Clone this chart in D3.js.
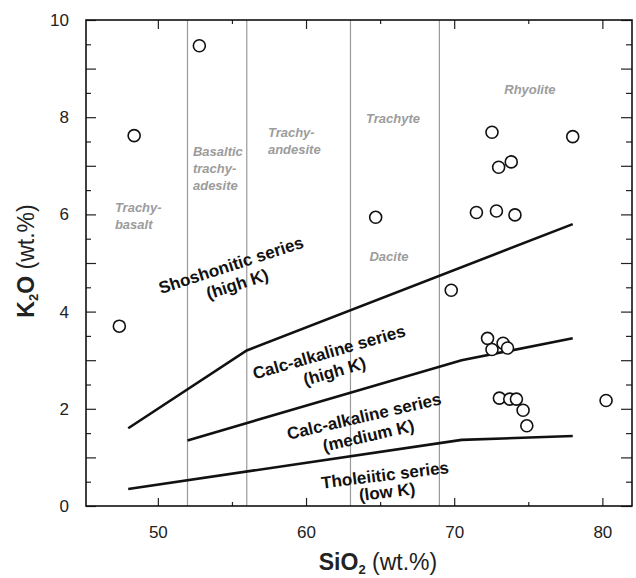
<!DOCTYPE html>
<html>
<head>
<meta charset="utf-8">
<script src="https://cdn.jsdelivr.net/npm/d3@7"></script>
<style>
  body { margin: 0; background: #fff; }
  svg { display: block; font-family: "Liberation Sans", Arial, sans-serif; }
</style>
</head>
<body>
<div id="chart"></div>
<script>
// samples (SiO2, K2O in wt.%)
var sio2 = [48.4, 52.8, 47.4, 64.7, 69.8, 72.55, 78.0, 73.0, 73.85, 71.5, 72.85, 74.1,
            72.25, 72.55, 73.3, 73.6, 73.05, 73.75, 74.2, 74.65, 74.9, 80.25];
var k2o  = [7.62, 9.47, 3.70, 5.94, 4.44, 7.69, 7.60, 6.97, 7.08, 6.04, 6.07, 5.99,
            3.45, 3.22, 3.35, 3.25, 2.22, 2.20, 2.20, 1.97, 1.65, 2.17];

// rock field boundaries (vertical)
var fieldBounds = [52, 56, 63, 69];

// series boundaries (Peccerillo & Taylor style)
var shoshoniticLine = [[48, 1.6], [56, 3.2], [78, 5.8]];
var highKLine       = [[52, 1.35], [70.5, 3.0], [78, 3.45]];
var lowKLine        = [[48, 0.35], [70.5, 1.36], [78, 1.44]];

// field names: [lines, SiO2, K2O, anchor]
var rockNames = [
  [["Trachy-", "basalt"], 47.1, 6.15, "start"],
  [["Basaltic", "trachy-", "adesite"], 52.37, 7.29, "start"],
  [["Trachy-", "andesite"], 57.43, 7.68, "start"],
  [["Trachyte"], 65.87, 7.98, "middle"],
  [["Rhyolite"], 75.11, 8.58, "middle"],
  [["Dacite"], 65.6, 5.13, "middle"]
];

// series names: [lines, SiO2, K2O, angle, line gap]
var seriesNames = [
  [["Shoshonitic series", "(high K)"], 54.94, 4.96, -18, 20],
  [["Calc-alkaline series", "(high K)"], 61.55, 3.17, -16, 20],
  [["Calc-alkaline series", "(medium K)"], 63.91, 1.85, -13, 20],
  [["Tholeiitic series", "(low K)"], 65.33, 0.64, -7, 17]
];

var xMajor = [50, 60, 70, 80], xMinor = [55, 65, 75];
var yMajor = d3.range(0, 11), yMinor = d3.range(0.5, 10, 1);

var width = 636, height = 578;
var plot = {left: 86, right: 632, top: 20, bottom: 506};

var svg = d3.select("#chart")
  .append("svg")
    .attr("width", width)
    .attr("height", height);

var x = d3.scaleLinear().domain([45.15, 82]).range([plot.left, plot.right]);
var y = d3.scaleLinear().domain([0, 10]).range([plot.bottom, plot.top]);

// vertical field lines
svg.append("g")
  .selectAll("line")
  .data(fieldBounds)
  .join("line")
    .attr("x1", d => x(d)).attr("x2", d => x(d))
    .attr("y1", y(0)).attr("y2", y(10))
    .attr("stroke", "#9a9a9a")
    .attr("stroke-width", 1.2);

// axes (ticks pointing in)
function styleAxis(g) {
  g.select(".domain").remove();
  g.selectAll(".tick line").attr("stroke", "#222").attr("stroke-width", 1.2);
  g.selectAll("text").attr("font-size", 17).attr("fill", "#222")
    .attr("font-family", "'Liberation Sans', Arial, sans-serif");
}

svg.append("g").attr("transform", "translate(0," + plot.bottom + ")")
  .call(d3.axisBottom(x).tickValues(xMajor).tickSize(-8).tickPadding(20))
  .call(styleAxis);
svg.append("g").attr("transform", "translate(0," + plot.bottom + ")")
  .call(d3.axisBottom(x).tickValues(xMinor).tickSize(-4).tickFormat(""))
  .call(styleAxis);
svg.append("g").attr("transform", "translate(0," + plot.top + ")")
  .call(d3.axisTop(x).tickValues(xMajor).tickSize(-9).tickFormat(""))
  .call(styleAxis);
svg.append("g").attr("transform", "translate(0," + plot.top + ")")
  .call(d3.axisTop(x).tickValues(xMinor).tickSize(-4).tickFormat(""))
  .call(styleAxis);

svg.append("g").attr("transform", "translate(" + plot.left + ",0)")
  .call(d3.axisLeft(y).tickValues(yMajor).tickSize(-10).tickPadding(17)
    .tickFormat(d => d % 2 === 0 ? d : ""))
  .call(styleAxis);
svg.append("g").attr("transform", "translate(" + plot.left + ",0)")
  .call(d3.axisLeft(y).tickValues(yMinor).tickSize(-5).tickFormat(""))
  .call(styleAxis);
svg.append("g").attr("transform", "translate(" + plot.right + ",0)")
  .call(d3.axisRight(y).tickValues(yMajor).tickSize(-11).tickFormat(""))
  .call(styleAxis);
svg.append("g").attr("transform", "translate(" + plot.right + ",0)")
  .call(d3.axisRight(y).tickValues(yMinor).tickSize(-6).tickFormat(""))
  .call(styleAxis);

// frame
svg.append("rect")
  .attr("x", plot.left).attr("y", plot.top)
  .attr("width", plot.right - plot.left).attr("height", plot.bottom - plot.top)
  .attr("fill", "none")
  .attr("stroke", "#111")
  .attr("stroke-width", 1.6);

// series boundary lines
var line = d3.line().x(d => x(d[0])).y(d => y(d[1]));
svg.append("g")
  .selectAll("path")
  .data([shoshoniticLine, highKLine, lowKLine])
  .join("path")
    .attr("d", line)
    .attr("fill", "none")
    .attr("stroke", "#111")
    .attr("stroke-width", 2.6);

// rock field names
rockNames.forEach(function(r) {
  var t = svg.append("text")
    .attr("x", x(r[1]))
    .attr("y", y(r[2]))
    .attr("text-anchor", r[3])
    .attr("font-size", 13)
    .attr("font-weight", "bold")
    .attr("font-style", "italic")
    .attr("fill", "#9c9c9c");
  r[0].forEach(function(s, i) {
    t.append("tspan")
      .attr("x", x(r[1]))
      .attr("dy", i === 0 ? "0.35em" : 17)
      .text(s);
  });
});

// series names
seriesNames.forEach(function(s) {
  var g = svg.append("g")
    .attr("transform", "translate(" + x(s[1]) + "," + y(s[2]) + ")rotate(" + s[3] + ")");
  s[0].forEach(function(txt, i) {
    g.append("text")
      .attr("x", 0)
      .attr("y", i * s[4])
      .attr("dy", "0.35em")
      .attr("text-anchor", "middle")
      .attr("font-size", 17)
      .attr("font-weight", "bold")
      .attr("fill", "#111")
      .text(txt);
  });
});

// sample points
svg.append("g")
  .selectAll("circle")
  .data(d3.range(sio2.length))
  .join("circle")
    .attr("cx", i => x(sio2[i]))
    .attr("cy", i => y(k2o[i]))
    .attr("r", 6)
    .attr("fill", "#fff")
    .attr("stroke", "#111")
    .attr("stroke-width", 1.6);

// axis titles
var xt = svg.append("text")
  .attr("x", 378).attr("y", 570)
  .attr("text-anchor", "middle")
  .attr("font-size", 23)
  .attr("fill", "#222");
xt.append("tspan").attr("font-weight", "bold").text("SiO");
xt.append("tspan").attr("font-size", 13).attr("dy", 4).attr("font-weight", "bold").text("2");
xt.append("tspan").attr("dy", -4).text(" (wt.%)");

var yt = svg.append("text")
  .attr("transform", "translate(34,261)rotate(-90)")
  .attr("text-anchor", "middle")
  .attr("font-size", 23)
  .attr("fill", "#222");
yt.append("tspan").attr("font-weight", "bold").text("K");
yt.append("tspan").attr("font-size", 13).attr("dy", 4).attr("font-weight", "bold").text("2");
yt.append("tspan").attr("dy", -4).attr("font-weight", "bold").text("O");
yt.append("tspan").text(" (wt.%)");
</script>
</body>
</html>
